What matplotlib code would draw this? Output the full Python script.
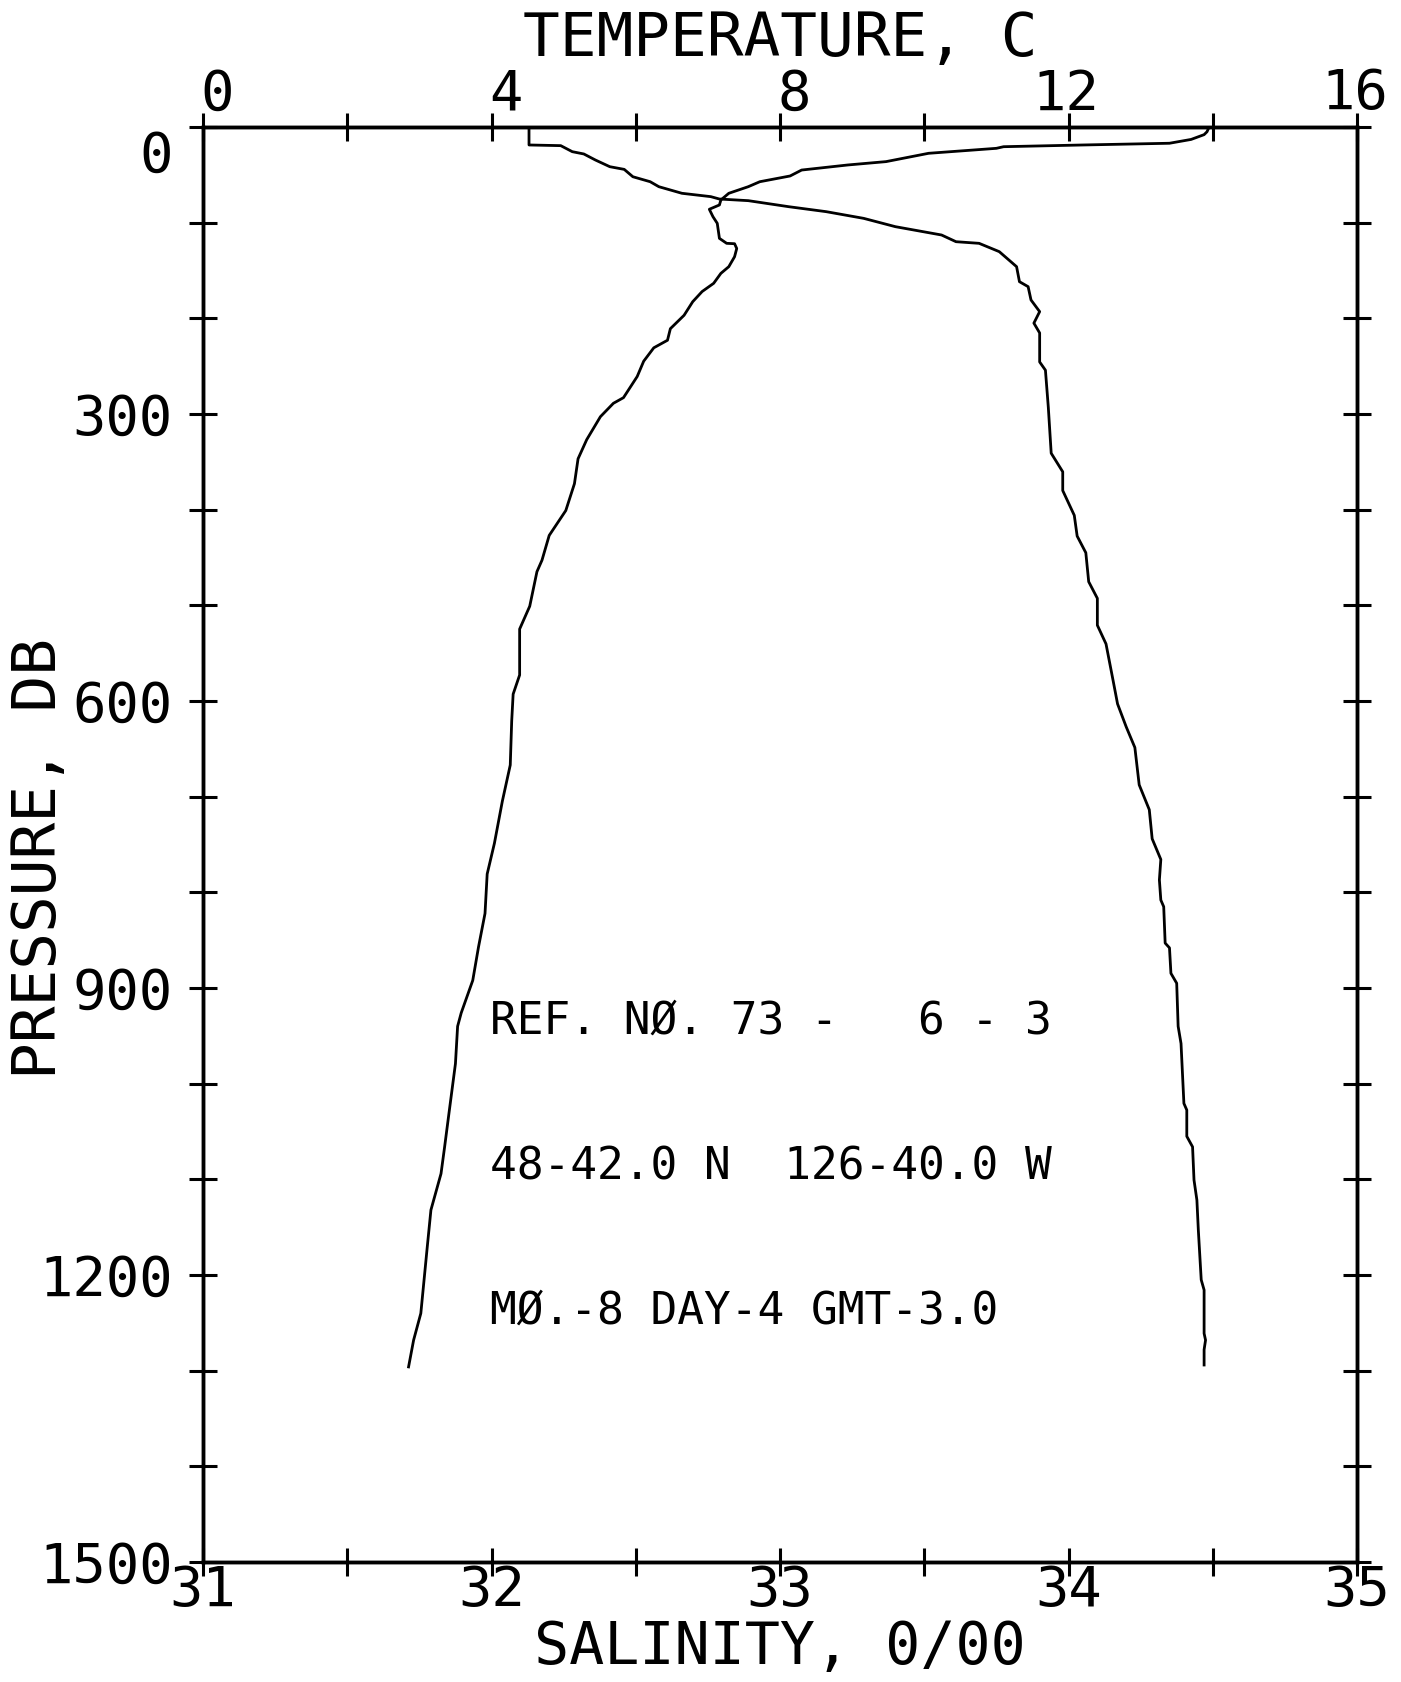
import matplotlib
matplotlib.use('Agg')
import matplotlib.pyplot as plt
from matplotlib.transforms import ScaledTranslation

### CTD cast 73-6-3
temp_pres = [0, 5, 8, 13, 17, 18.8, 20.6, 22.3, 27.5, 36.2, 39.7, 45, 51.2, 57.2, 62.4,
             69.3, 76.3, 81.5, 86, 93.7, 100.7, 116.4, 121.6, 122, 127, 135.6, 146, 153,
             163.4, 172, 182.6, 196.8, 210.8, 222.9, 230.8, 244.8, 260.8, 282.9, 288.8,
             302.8, 326.8, 346.8, 372.8, 400.9, 426.9, 452.8, 464.8, 500.9, 524.8, 572.8,
             592.8, 620.9, 666.9, 704.8, 748.8, 780.8, 822, 857, 892, 926, 940, 979, 1031,
             1066, 1094, 1132, 1170, 1240, 1268, 1296]
temp_vals = [13.95, 13.92, 13.88, 13.7, 13.4, 12.2, 11.1, 11.0, 10.06, 9.47, 8.94, 8.30,
             8.14, 7.72, 7.56, 7.29, 7.18, 7.16, 7.02, 7.07, 7.13, 7.16, 7.26, 7.37, 7.40,
             7.37, 7.29, 7.18, 7.08, 6.92, 6.79, 6.67, 6.48, 6.44, 6.25, 6.11, 6.02, 5.83,
             5.69, 5.51, 5.32, 5.20, 5.15, 5.03, 4.80, 4.70, 4.63, 4.53, 4.39, 4.39, 4.30,
             4.28, 4.26, 4.15, 4.04, 3.94, 3.91, 3.82, 3.74, 3.58, 3.53, 3.50, 3.41, 3.35,
             3.30, 3.16, 3.11, 3.02, 2.92, 2.85]

sal_pres = [0, 18.8, 19.5, 25.8, 28.2, 34.5, 41.5, 44.3, 52, 57.2, 62.4, 69.3, 72.8, 75.3,
            77, 83.3, 88.5, 95.5, 104.2, 112.9, 119.9, 121.6, 130.3, 146, 161.7, 166.9,
            180.8, 193, 205, 215.3, 245.6, 254.2, 293, 341, 360.4, 380, 405.9, 427.6, 445,
            475.3, 492.7, 520.8, 540.3, 579.3, 603, 627, 648.6, 687.6, 713.6, 744, 765.6,
            787, 808, 815, 853, 858, 884.6, 895, 940, 958, 1020.6, 1027.5, 1055, 1066,
            1100.6, 1121.6, 1153, 1205, 1215.6, 1261, 1268, 1278, 1294]
sal_vals = [32.13, 32.13, 32.24, 32.28, 32.32, 32.36, 32.41, 32.46, 32.49, 32.55, 32.58,
            32.66, 32.76, 32.79, 32.89, 33.03, 33.16, 33.29, 33.40, 33.56, 33.61, 33.69,
            33.76, 33.82, 33.83, 33.86, 33.87, 33.90, 33.88, 33.90, 33.90, 33.92, 33.93,
            33.94, 33.98, 33.98, 34.02, 34.03, 34.06, 34.07, 34.10, 34.10, 34.13, 34.155,
            34.17, 34.20, 34.23, 34.245, 34.28, 34.29, 34.32, 34.315, 34.32, 34.33, 34.335,
            34.35, 34.355, 34.375, 34.38, 34.39, 34.40, 34.41, 34.41, 34.43, 34.435, 34.445,
            34.45, 34.46, 34.47, 34.47, 34.475, 34.47, 34.47]

### Axis ticks and labels
temp_ticks = [0, 2, 4, 6, 8, 10, 12, 14, 16]
temp_labels = ['0', '', '4', '', '8', '', '12', '', '16']
sal_ticks = [31, 31.5, 32, 32.5, 33, 33.5, 34, 34.5, 35]
sal_labels = ['31', '', '32', '', '33', '', '34', '', '35']
pres_ticks = list(range(0, 1600, 100))
pres_labels = ['0', '', '', '300', '', '', '600', '', '', '900', '', '', '1200', '', '', '1500']

info_lines = ['REF. NØ. 73 -   6 - 3', '48-42.0 N  126-40.0 W', 'MØ.-8 DAY-4 GMT-3.0']

plt.rcParams['font.family'] = ['DejaVu Sans Mono', 'DejaVu Sans']

fig = plt.figure(figsize=(14.01, 16.82), dpi=100)
ax = fig.add_axes([0.1449, 0.0713, 0.8237, 0.8532])
ax2 = ax.twiny()

ax.plot(sal_vals, sal_pres, color='black', lw=2.0)
ax2.plot(temp_vals, temp_pres, color='black', lw=2.0)

ax.set_xlim(31, 35)
ax2.set_xlim(0, 16)
ax.set_ylim(1500, 0)

ax.set_xticks(sal_ticks, sal_labels)
ax.set_yticks(pres_ticks, pres_labels)
ax2.set_xticks(temp_ticks, temp_labels)

ax.tick_params(axis='x', direction='inout', length=20, width=2.2, labelsize=40,
               pad=-8.5, top=False)
ax.tick_params(axis='y', direction='inout', length=20, width=2.2, labelsize=40,
               pad=12, right=True, labelright=False)
ax2.tick_params(axis='x', direction='inout', length=20, width=2.2, labelsize=40,
                pad=-6, bottom=False)

for a in (ax, ax2):
    for s in a.spines.values():
        s.set_linewidth(2.5)

### top labels sit right-aligned in a two-digit field centred on the tick
for lbl in ax2.get_xticklabels():
    lbl.set_ha('right')
    lbl.set_transform(lbl.get_transform() + ScaledTranslation(0.31, 0, fig.dpi_scale_trans))
### the zero pressure label is dropped below the corner
zero_lbl = ax.get_yticklabels()[0]
zero_lbl.set_transform(zero_lbl.get_transform() + ScaledTranslation(0, -0.24, fig.dpi_scale_trans))

ax.set_xlabel('SALINITY, 0/00', fontsize=42, labelpad=0.5)
ax2.set_xlabel('TEMPERATURE, C', fontsize=44, labelpad=8)
ax.set_ylabel('PRESSURE, DB', fontsize=44, va='center')
ax.yaxis.set_label_coords(-0.1415, 0.49)

for line, p in zip(info_lines, [935, 1087, 1238]):
    ax.text(31.995, p, line, fontsize=32, ha='left', va='center')

fig.savefig('out.png', dpi=100)
